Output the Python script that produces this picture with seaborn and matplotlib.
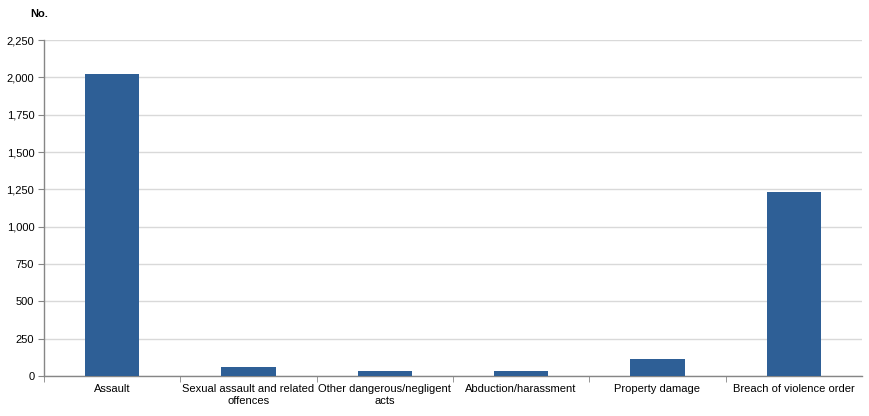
import numpy as np
import pandas as pd
import matplotlib
matplotlib.use("Agg")
import matplotlib.pyplot as plt
import seaborn as sns

# Offence categories and counts
categories = ["Assault", "Sexual assault and related\noffences", "Other dangerous/negligent\nacts",
              "Abduction/harassment", "Property damage", "Breach of violence order"]
counts = [2021, 62, 35, 35, 116, 1232]
yticks = [0, 250, 500, 750, 1000, 1250, 1500, 1750, 2000, 2250]

df = pd.DataFrame({"category": categories, "count": counts})

sns.set_style("white")
plt.rcParams['font.family'] = ['Liberation Sans', 'DejaVu Sans']
plt.rcParams['text.color'] = "black"
plt.rcParams['xtick.color'] = "black"
plt.rcParams['ytick.color'] = "black"

fig = plt.figure(figsize=(8.69, 4.16), dpi=100)
ax = fig.add_axes([44 / 869, 1 - 376 / 416, (862 - 44) / 869, (376 - 40) / 416])

sns.barplot(data=df, x="category", y="count", color="#2E5F96", width=0.4,
            saturation=1, linewidth=0, ax=ax, zorder=3)

ax.set_ylim(0, 2250)
ax.set_xlim(-0.5, len(categories) - 0.5)
ax.set_yticks(yticks)
ax.set_yticklabels([f"{v:,}" for v in yticks], fontsize=8)
ax.set_xticklabels(categories, fontsize=8, linespacing=1.25)
ax.tick_params(axis="x", which="major", length=0, pad=6)
# category separators below the axis
ax.set_xticks(np.arange(-0.5, len(categories) - 0.5, 1), minor=True)
ax.tick_params(axis="x", which="minor", bottom=True, length=4, color="#868686", direction="out")
ax.tick_params(axis="y", left=True, length=4, color="#868686", direction="out", pad=3)
ax.yaxis.grid(True, color="#d9d9d9", linewidth=1, zorder=0)
ax.set_axisbelow(True)
for s in ["top", "right"]:
    ax.spines[s].set_visible(False)
for s in ["left", "bottom"]:
    ax.spines[s].set_color("#868686")
    ax.spines[s].set_linewidth(1)
ax.set_xlabel("")
ax.set_ylabel("")
fig.text(30 / 869, 1 - 14 / 416, "No.", fontsize=8, fontweight="bold", va="center", ha="left")

fig.savefig("out.png", dpi=100)
